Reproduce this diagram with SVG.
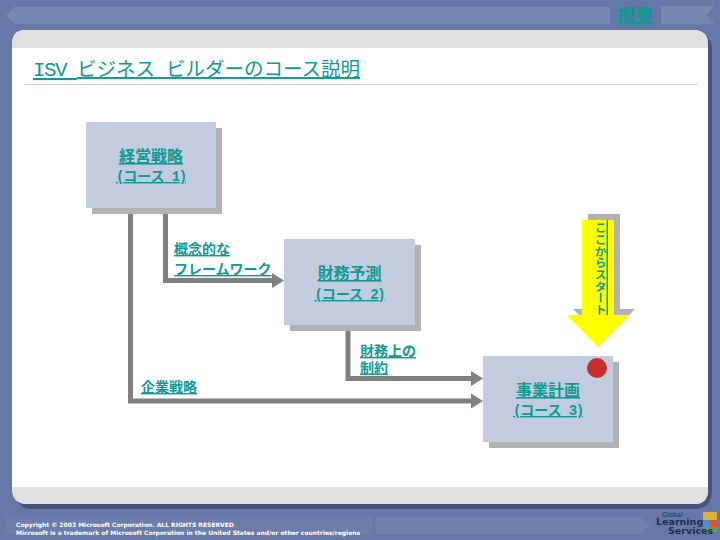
<svg xmlns="http://www.w3.org/2000/svg" width="720" height="540" viewBox="0 0 720 540">
<style>
text{font-family:"Noto Sans CJK JP","Liberation Sans",sans-serif;fill:#0f9a95;text-decoration:underline}
.m{font-family:"Liberation Mono",monospace;letter-spacing:-.09em}
.n{font-size:16px;font-weight:700;text-anchor:middle}
.s{font-size:14px;font-weight:700;text-anchor:middle}
.l{font-size:14px;font-weight:700}
.box{fill:#c3cbde}
.sh{fill:#b2b2b2}
.c{fill:none;stroke:#808080;stroke-width:5}
.h{fill:#808080}
.f{font-family:"DejaVu Sans","Liberation Sans",sans-serif;font-size:6px;font-weight:700;fill:#fff;text-decoration:none}
.g{font-family:"DejaVu Sans","Liberation Sans",sans-serif;font-weight:700;fill:#20304f;text-decoration:none}
</style>
<rect width="720" height="540" fill="#6578a8"/>
<path d="M14 7H610V24H14L6 15.500Z" fill="#7687b2"/>
<path d="M661 6H714L707 15L714 24H661Z" fill="#7687b2"/>
<path d="M16 34H700Q712 36 712 50V490Q712 508 696 509H30Q16 508 14 490Z" fill="#46547e"/>
<path d="M24 30H696Q708 32 708 44V490Q708 504 694 504H28Q13 504 12 490V44Q12 31 24 30Z" fill="#fff"/>
<path d="M24 30H696Q708 32 708 44V48H12V44Q12 31 24 30Z" fill="#e0e0e0"/>
<path d="M12 487H708V490Q708 504 694 504H28Q13 504 12 490Z" fill="#e0e0e0"/>
<path d="M6 517H372V534H6Z" fill="#6b7dab"/>
<path d="M376 517H640L650 525.500L640 534H376Z" fill="#6f81ae"/>
<text x="617" y="22" style="font-size:18px;font-weight:700">概要</text>
<text x="33" y="76" style="font-size:19.500px"><tspan class="m" style="font-size:21px;letter-spacing:-1.600px">ISV </tspan>ビジネス<tspan class="m" style="letter-spacing:-.7px"> </tspan>ビルダーのコース説明</text>
<rect x="24" y="84" width="673" height="1" fill="#cccccc"/>
<g id="connectors">
<path class="c" d="M130.500 208V401H472"/><path class="h" d="M471 393.500L483 401L471 408.500Z"/>
<path class="c" d="M165.500 208V280.500H274"/><path class="h" d="M272 273L284 280.500L272 288Z"/>
<path class="c" d="M348 325V378.500H472"/><path class="h" d="M471 371L483 378.500L471 386Z"/>
</g>
<g id="node1"><rect class="sh" x="92" y="128" width="130" height="86"/><rect class="box" x="86" y="122" width="130" height="86"/>
<text class="n" x="151" y="162">経営戦略</text><text class="s" x="151" y="181"><tspan class="m">(</tspan>コース<tspan class="m"> 1)</tspan></text></g>
<g id="node2"><rect class="sh" x="290" y="245" width="131" height="86"/><rect class="box" x="284" y="239" width="131" height="86"/>
<text class="n" x="349.500" y="279">財務予測</text><text class="s" x="349.500" y="299"><tspan class="m">(</tspan>コース<tspan class="m"> 2)</tspan></text></g>
<g id="node3"><rect class="sh" x="489" y="362" width="130" height="86"/><rect class="box" x="483" y="356" width="130" height="86"/>
<text class="n" x="548" y="396">事業計画</text><text class="s" x="548" y="415"><tspan class="m">(</tspan>コース<tspan class="m"> 3)</tspan></text>
<circle cx="597" cy="368" r="10" fill="#c8302e"/></g>
<g id="start-arrow">
<path class="sh" d="M588 214H620V309H635L604 341L573 309H588Z"/>
<path d="M582 220H614V315H630L598 347L567 315H582Z" fill="#ffff00"/>
<text x="600.500" y="222" style="font-size:11.700px;font-weight:700;writing-mode:vertical-rl;text-decoration:none">ここからスタート</text>
<rect x="606.500" y="220" width="1.500" height="95" fill="#0f9a95"/>
</g>
<g id="labels">
<text class="l" x="174" y="254">概念的な</text>
<text class="l" x="174" y="274">フレームワーク</text>
<text class="l" x="360" y="356">財務上の</text>
<text class="l" x="360" y="372.500">制約</text>
<text class="l" x="141" y="392">企業戦略</text>
</g>
<g id="footer">
<text class="f" x="16" y="527">Copyright © 2003 Microsoft Corporation. ALL RIGHTS RESERVED</text>
<text class="f" x="16" y="534.500">Microsoft is a trademark of Microsoft Corporation in the United States and/or other countries/regions</text>
</g>
<g id="logo">
<rect x="703" y="512" width="14" height="8" fill="#d9b23a"/><rect x="703" y="520" width="7" height="7" fill="#4a90c8"/><rect x="710" y="520" width="7" height="7" fill="#d2562e"/><rect x="703" y="527" width="14" height="5" fill="#5ea05a"/>
<text class="g" x="662" y="516.500" style="font-size:6.500px;font-weight:400">Global</text>
<text class="g" x="656" y="525" style="font-size:9.500px">Learning</text>
<text class="g" x="668" y="533.500" style="font-size:9.500px">Services</text>
</g>
</svg>
